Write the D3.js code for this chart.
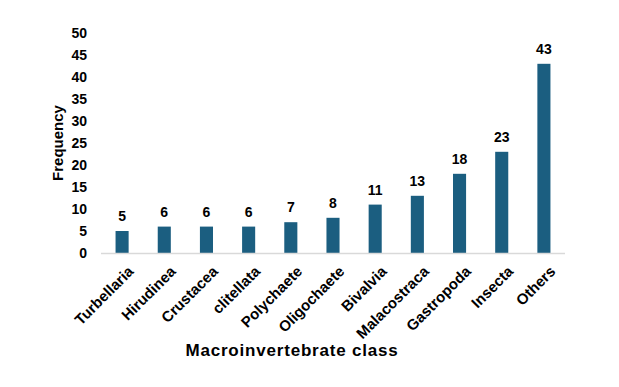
<!DOCTYPE html>
<html>
<head>
<meta charset="utf-8">
<script src="https://cdn.jsdelivr.net/npm/d3@7"></script>
<style>
  body { margin: 0; background: #fff; }
  svg text { font-family: "Liberation Sans", Arial, sans-serif; font-weight: bold; fill: #000; }
</style>
</head>
<body>
<div id="chart"></div>
<script>
const categories = ["Turbellaria", "Hirudinea", "Crustacea", "clitellata", "Polychaete", "Oligochaete",
    "Bivalvia", "Malacostraca", "Gastropoda", "Insecta", "Others"];
const frequency = [5, 6, 6, 6, 7, 8, 11, 13, 18, 23, 43];
const yTicks = [0, 5, 10, 15, 20, 25, 30, 35, 40, 45, 50];

var width = 619, height = 387;
var plot = { left: 101, right: 565, top: 33, bottom: 253 };

var svg = d3.select("#chart")
    .append("svg")
    .attr("width", width)
    .attr("height", height);

var x = d3.scaleBand()
    .domain(categories)
    .range([plot.left, plot.right])
    .paddingInner(0.69)
    .paddingOuter(0.345);

var y = d3.scaleLinear()
    .domain([0, 50])
    .range([plot.bottom, plot.top]);

// y axis (labels only)
var yAxis = svg.append("g")
    .attr("transform", "translate(" + (plot.left - 8) + ",0)")
    .call(d3.axisLeft(y).tickValues(yTicks).tickSize(0).tickPadding(6));
yAxis.select(".domain").remove();
yAxis.selectAll("text").style("font-size", "14px").attr("dy", "0.35em");

// bars
svg.selectAll("rect.bar")
    .data(frequency)
    .enter()
    .append("rect")
    .attr("class", "bar")
    .attr("x", function (d, i) { return x(categories[i]); })
    .attr("y", function (d) { return y(d); })
    .attr("width", x.bandwidth())
    .attr("height", function (d) { return y(0) - y(d); })
    .attr("fill", "#1b5e80");

// baseline
svg.append("line")
    .attr("x1", plot.left).attr("x2", plot.right)
    .attr("y1", y(0) + 0.5).attr("y2", y(0) + 0.5)
    .attr("stroke", "#d9d9d9")
    .attr("stroke-width", 1.5);

// value labels
svg.selectAll("text.val")
    .data(frequency)
    .enter()
    .append("text")
    .attr("class", "val")
    .attr("x", function (d, i) { return x(categories[i]) + x.bandwidth() / 2; })
    .attr("y", function (d) { return y(d) - 10; })
    .attr("text-anchor", "middle")
    .style("font-size", "14px")
    .text(function (d) { return d; });

// category labels
svg.selectAll("text.cat")
    .data(categories)
    .enter()
    .append("text")
    .attr("class", "cat")
    .attr("text-anchor", "end")
    .attr("transform", function (d) {
        return "translate(" + (x(d) + x.bandwidth() / 2 + 5) + "," + (y(0) + 12) + ")rotate(-45)";
    })
    .attr("dy", "0.7em")
    .style("font-size", "15px")
    .text(function (d) { return d; });

// axis titles
svg.append("text")
    .attr("transform", "translate(63," + ((plot.top + plot.bottom) / 2) + ")rotate(-90)")
    .attr("text-anchor", "middle")
    .style("font-size", "15px")
    .text("Frequency");

svg.append("text")
    .attr("x", 292)
    .attr("y", 356)
    .attr("text-anchor", "middle")
    .style("font-size", "17px")
    .style("letter-spacing", "0.8px")
    .text("Macroinvertebrate class");
</script>
</body>
</html>
